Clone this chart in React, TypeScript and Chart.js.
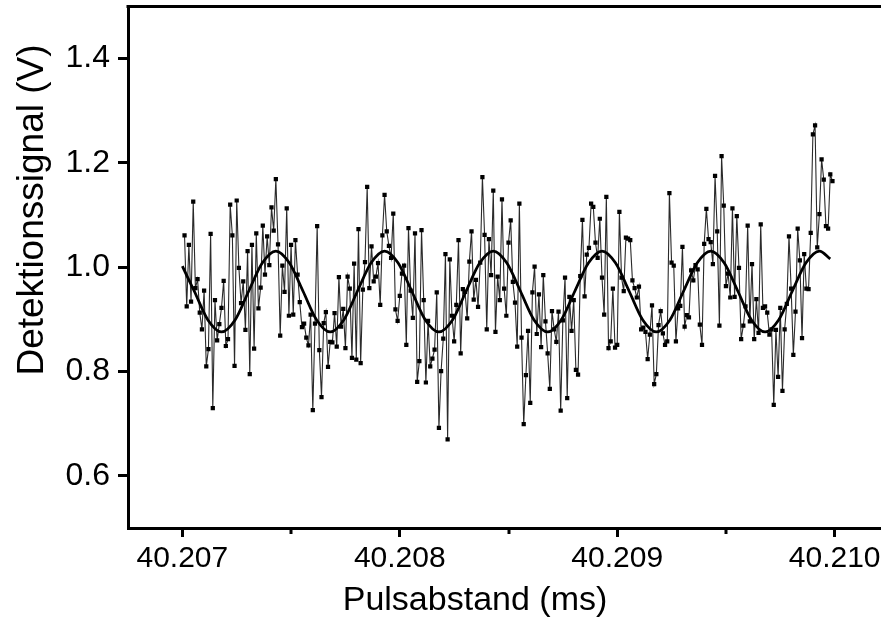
import { useEffect, useRef } from "react";
import { Chart, registerables } from "chart.js";

Chart.register(...registerables);

// ---- data ----
const X_START = 40.20701;
const X_STEP = 0.00001;
const SIGNAL = [
  1.061, 0.925, 1.043, 0.934, 1.126, 0.960, 0.977, 0.913, 0.881, 0.955,
  0.810, 0.843, 1.064, 0.730, 0.937, 0.860, 0.891, 0.922, 0.974, 0.849,
  0.862, 1.120, 1.061, 0.811, 1.128, 0.999, 0.931, 0.973, 0.880, 1.031,
  0.795, 1.043, 0.844, 1.065, 0.921, 0.961, 1.080, 0.986, 1.059, 1.004,
  1.115, 1.070, 1.169, 1.044, 0.869, 1.003, 0.953, 1.113, 0.907, 1.043,
  0.909, 1.052, 0.986, 0.933, 0.885, 0.892, 0.865, 0.850, 0.909, 0.726,
  0.892, 1.079, 0.841, 0.751, 0.893, 0.914, 0.809, 0.857, 0.856, 0.912,
  0.848, 0.981,
  0.886, 0.920, 0.845, 0.982, 0.959, 0.826, 1.007, 0.823, 1.073, 0.816,
  0.957, 1.010, 1.154, 0.960, 1.040, 0.973, 0.982, 1.008, 0.928, 1.061,
  1.139, 1.069, 1.041, 1.018, 1.103, 0.919, 0.897, 0.945, 0.988, 1.003,
  0.851, 1.075, 0.955, 0.903, 1.065, 0.780, 0.820, 1.071, 0.937, 0.779,
  0.897, 0.810, 0.825, 0.842, 0.952, 0.692, 0.801, 0.863, 1.025, 0.670,
  1.015, 0.907, 0.858, 0.928, 1.052, 0.835, 0.958, 0.953, 0.902, 1.011,
  1.069, 0.938, 0.976, 0.924, 1.009, 1.173, 1.062, 0.881, 1.054, 0.985,
  1.147, 0.876,
  0.982, 0.937, 1.130, 0.959, 0.907, 1.047, 1.090, 0.972, 0.932, 0.848,
  1.122, 0.865, 0.699, 0.793, 0.878, 0.740, 0.952, 1.001, 0.872, 0.948,
  0.847, 0.985, 0.896, 0.835, 0.767, 0.916, 0.881, 0.857, 0.915, 0.725,
  0.898, 0.980, 0.749, 0.943, 0.878, 0.937, 0.803, 0.794, 0.983, 1.091,
  0.944, 1.024, 1.037, 1.122, 1.116, 1.047, 1.018, 1.093, 0.980, 0.909,
  1.135, 0.845, 0.858, 0.959, 0.846, 0.851, 1.106, 0.980, 0.954, 1.057,
  1.055, 1.052, 0.975, 0.960, 0.942, 0.963, 0.881, 0.884, 0.876, 0.824,
  0.871, 0.927, 0.776, 0.795, 0.889,
  0.916, 0.873, 0.851, 0.858, 1.142, 1.009, 1.003, 0.858, 0.921, 0.926,
  1.039, 0.886, 0.908, 0.904, 0.994, 0.975, 1.004, 0.996, 0.890, 0.851,
  1.045, 1.112, 1.054, 1.048, 1.006, 1.175, 1.069, 0.888, 1.213, 1.118,
  0.964, 0.988, 0.942, 1.113, 0.943, 1.098, 0.999, 0.862, 0.888, 0.925,
  1.080, 0.896, 1.006, 0.862, 0.939, 0.874, 1.082, 0.922, 0.925, 0.913,
  0.871, 0.881, 0.736, 0.880, 0.790, 0.922, 0.763, 0.881, 0.930, 1.059,
  0.959, 0.832, 0.915, 1.074, 1.013, 0.864, 1.025, 0.959, 0.958, 1.066,
  1.255, 1.272, 1.038, 1.102, 1.207, 1.168, 1.079, 1.074, 1.178, 1.165,
];

const FIT_X = [
  40.207, 40.207055, 40.2071175, 40.20718, 40.2072425, 40.207305, 40.2073675, 40.20743,
  40.2074925, 40.207555, 40.2076175, 40.20768, 40.2077425, 40.207805, 40.2078675, 40.20793,
  40.2079925, 40.208055, 40.2081175, 40.20818, 40.2082425, 40.208305, 40.2083675, 40.20843,
  40.2084925, 40.208555, 40.2086175, 40.20868, 40.2087425, 40.208805, 40.2088675, 40.20893,
  40.2089925, 40.209055, 40.2091175, 40.20918, 40.2092425, 40.209305, 40.2093675, 40.20943,
  40.2094925, 40.209555, 40.2096175, 40.20968, 40.2097425, 40.209805, 40.2098675, 40.20993,
  40.20998,
];
const FIT_Y = [
  1.002, 0.954, 0.899, 0.876, 0.899, 0.954, 1.008, 1.031,
  1.008, 0.954, 0.899, 0.876, 0.899, 0.954, 1.008, 1.031,
  1.008, 0.954, 0.899, 0.876, 0.899, 0.954, 1.008, 1.031,
  1.008, 0.954, 0.899, 0.876, 0.899, 0.954, 1.008, 1.031,
  1.008, 0.954, 0.899, 0.876, 0.899, 0.954, 1.008, 1.031,
  1.008, 0.954, 0.899, 0.876, 0.899, 0.954, 1.008, 1.031,
  1.016,
];

const X_MIN = 40.20675;
const X_MAX = 40.21025;
const Y_MIN = 0.5;
const Y_MAX = 1.5;
const X_TICKS = [40.207, 40.208, 40.209, 40.21];
const X_MINOR_TICKS = [40.2075, 40.2085, 40.2095];
const Y_TICKS = [0.6, 0.8, 1.0, 1.2, 1.4];
const X_TITLE = "Pulsabstand (ms)";
const Y_TITLE = "Detektionssignal (V)";

const FONT = "'Liberation Sans', Arial, Helvetica, sans-serif";

function noPad(s: any) {
  s.paddingTop = 0;
  s.paddingBottom = 0;
  s.paddingLeft = 0;
  s.paddingRight = 0;
}

export default function App() {
  const ref = useRef<HTMLCanvasElement | null>(null);

  useEffect(() => {
    document.body.style.margin = "0";
    const canvas = ref.current!;
    const points = SIGNAL.map((v, i) => ({ x: X_START + i * X_STEP, y: v }));
    const fit = FIT_X.map((x, i) => ({ x, y: FIT_Y[i] }));

    const framePlugin = {
      id: "frame",
      afterDraw(chart: any) {
        const { ctx, chartArea } = chart;
        const xs = chart.scales.x;
        ctx.save();
        ctx.strokeStyle = "#000";
        ctx.lineWidth = 3;
        ctx.beginPath();
        ctx.moveTo(chartArea.left - 1.5, chartArea.top);
        ctx.lineTo(chartArea.right + 2, chartArea.top);
        ctx.stroke();
        // minor ticks
        for (const v of X_MINOR_TICKS) {
          const px = Math.round(xs.getPixelForValue(v));
          ctx.beginPath();
          ctx.moveTo(px, chartArea.bottom);
          ctx.lineTo(px, chartArea.bottom + 6);
          ctx.stroke();
        }
        // titles
        ctx.fillStyle = "#000";
        ctx.font = `34px ${FONT}`;
        ctx.textAlign = "center";
        ctx.textBaseline = "alphabetic";
        ctx.fillText(X_TITLE, 475, 610);
        ctx.translate(43, 210);
        ctx.rotate(-Math.PI / 2);
        ctx.font = `37px ${FONT}`;
        ctx.fillText(Y_TITLE, 0, 0);
        ctx.restore();
      },
    };

    const chart = new Chart(canvas, {
      type: "line",
      data: {
        datasets: [
          {
            data: fit,
            borderColor: "#000",
            borderWidth: 2.8,
            pointRadius: 0,
            cubicInterpolationMode: "monotone",
            fill: false,
            order: 0,
          },
          {
            data: points,
            borderColor: "#2a2a2a",
            borderWidth: 1.1,
            pointStyle: "rect",
            pointRadius: 3,
            pointBackgroundColor: "#000",
            pointBorderWidth: 0,
            fill: false,
            order: 1,
          },
        ],
      },
      options: {
        responsive: false,
        maintainAspectRatio: false,
        animation: false,
        layout: { padding: { top: 6.5, right: 0, left: 0, bottom: 0 } },
        plugins: { legend: { display: false }, tooltip: { enabled: false }, title: { display: false } },
        scales: {
          x: {
            type: "linear",
            min: X_MIN,
            max: X_MAX,
            afterBuildTicks: (s: any) => {
              s.ticks = X_TICKS.map((v) => ({ value: v }));
            },
            afterFit: (s: any) => {
              s.height = 93;
              noPad(s);
            },
            grid: { drawOnChartArea: false, drawTicks: true, tickLength: 9, tickWidth: 3, tickColor: "#000" },
            border: { display: true, width: 3, color: "#000" },
            ticks: {
              autoSkip: false,
              maxRotation: 0,
              padding: 4,
              color: "#000",
              font: { family: FONT, size: 30 },
              callback: (v: any) => Number(v).toFixed(3),
            },
          },
          y: {
            type: "linear",
            min: Y_MIN,
            max: Y_MAX,
            afterBuildTicks: (s: any) => {
              s.ticks = Y_TICKS.map((v) => ({ value: v }));
            },
            afterFit: (s: any) => {
              s.width = 128;
              noPad(s);
            },
            grid: { drawOnChartArea: false, drawTicks: true, tickLength: 10, tickWidth: 3, tickColor: "#000" },
            border: { display: true, width: 3, color: "#000" },
            ticks: {
              autoSkip: false,
              padding: 8,
              color: "#000",
              font: { family: FONT, size: 32 },
              callback: (v: any) => Number(v).toFixed(1),
            },
          },
        },
      },
      plugins: [framePlugin],
    });
    return () => chart.destroy();
  }, []);

  return (
    <div style={{ position: "fixed", left: 0, top: 0, width: 881, height: 621, overflow: "hidden", background: "#fff" }}>
      <canvas ref={ref} width={893} height={621} style={{ width: 893, height: 621, display: "block" }} />
    </div>
  );
}
